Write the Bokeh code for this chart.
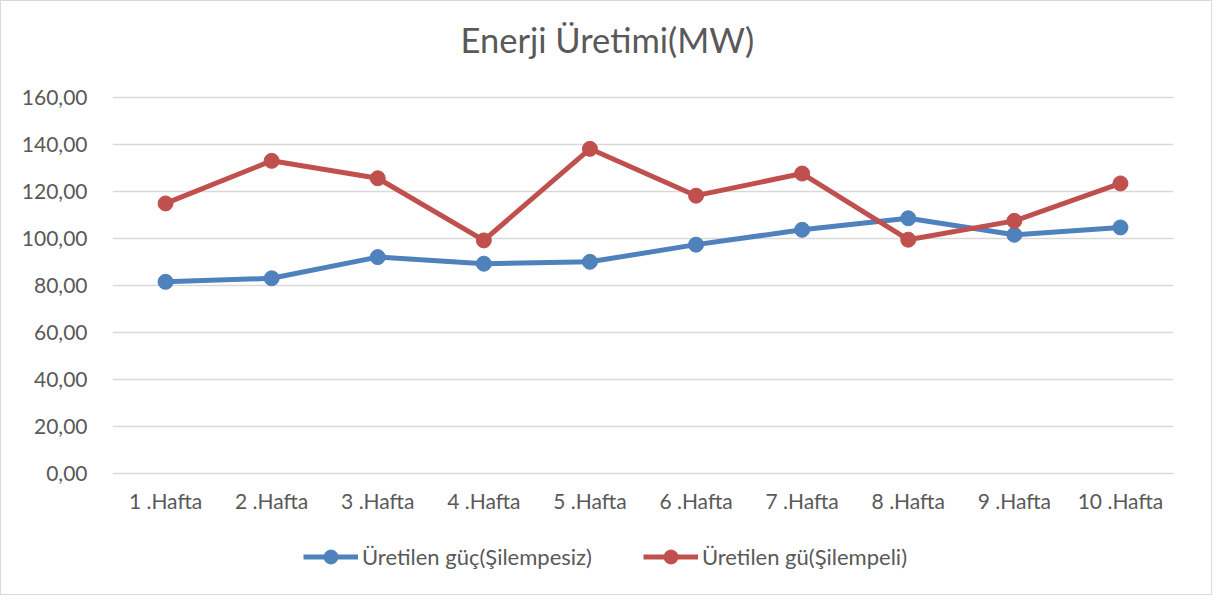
from bokeh.plotting import figure
from bokeh.models import Legend, LegendItem, FactorRange, Range1d, FixedTicker, ColumnDataSource
from bokeh.embed import file_html
from bokeh.resources import INLINE

# ---- data ----
weeks = ["1 .Hafta", "2 .Hafta", "3 .Hafta", "4 .Hafta", "5 .Hafta",
         "6 .Hafta", "7 .Hafta", "8 .Hafta", "9 .Hafta", "10 .Hafta"]
uretilen_silempesiz = [81.6, 83.1, 92.1, 89.3, 90.1, 97.4, 103.7, 108.6, 101.6, 104.7]
uretilen_silempeli = [114.9, 133.0, 125.6, 99.2, 138.1, 118.2, 127.6, 99.5, 107.5, 123.4]
y_ticks = [0, 20, 40, 60, 80, 100, 120, 140, 160]
y_tick_labels = ["0,00", "20,00", "40,00", "60,00", "80,00", "100,00", "120,00", "140,00", "160,00"]
series_names = ["Üretilen güç(Şilempesiz)", "Üretilen gü(Şilempeli)"]
title_text = "Enerji Üretimi(MW)"

BLUE = "#4F81BD"
RED = "#C0504D"
TEXT = "#595959"
GRID = "#D9D9D9"
FONT = "Lato"

# the plotting frame extends past 0..160 to hold the legend; only 0..160 is ticked
p = figure(width=1212, height=595, x_range=FactorRange(*weeks, range_padding=0),
           y_range=Range1d(-49.1, 170.1), output_backend="svg", toolbar_location=None,
           min_border_left=111, min_border_right=40, min_border_top=72, min_border_bottom=7)
p.styles = {"border": "1px solid #D9D9D9", "box-sizing": "border-box"}
p.background_fill_color = "white"
p.border_fill_color = "white"
p.outline_line_color = None

# title
p.title.text = title_text
p.title.align = "left"
p.title.offset = 348
p.title.text_font = FONT
p.title.text_font_size = "34.5px"
p.title.text_font_style = "normal"
p.title.text_color = TEXT
p.title.standoff = 27

# grid
p.xgrid.grid_line_color = None
p.ygrid.grid_line_color = GRID
p.ygrid.grid_line_width = 1.5
p.yaxis.ticker = FixedTicker(ticks=y_ticks)
p.yaxis.major_label_overrides = {t: l for t, l in zip(y_ticks, y_tick_labels)}
p.xaxis.fixed_location = 0

for ax in (p.xaxis, p.yaxis):
    ax.axis_line_color = None
    ax.major_tick_line_color = None
    ax.minor_tick_line_color = None
    ax.major_label_text_font = FONT
    ax.major_label_text_font_size = "21px"
    ax.major_label_text_color = TEXT
p.yaxis.major_label_standoff = 19
p.xaxis.major_label_standoff = 8

src = ColumnDataSource(dict(x=weeks, a=uretilen_silempesiz, b=uretilen_silempeli))
l1 = p.line("x", "a", source=src, line_color=BLUE, line_width=5)
s1 = p.scatter("x", "a", source=src, size=15, fill_color=BLUE, line_color=BLUE)
l2 = p.line("x", "b", source=src, line_color=RED, line_width=5)
s2 = p.scatter("x", "b", source=src, size=15, fill_color=RED, line_color=RED)

legend = Legend(items=[LegendItem(label=series_names[0], renderers=[l1, s1]),
                       LegendItem(label=series_names[1], renderers=[l2, s2])],
                orientation="horizontal", location=(191, 15),
                padding=0, margin=0, spacing=51, label_standoff=4,
                glyph_width=55, glyph_height=35,
                label_text_font=FONT, label_text_font_size="22px",
                label_text_color=TEXT, border_line_color=None,
                background_fill_alpha=0)
p.add_layout(legend, "center")

open("out.html", "w").write(file_html(p, INLINE))
